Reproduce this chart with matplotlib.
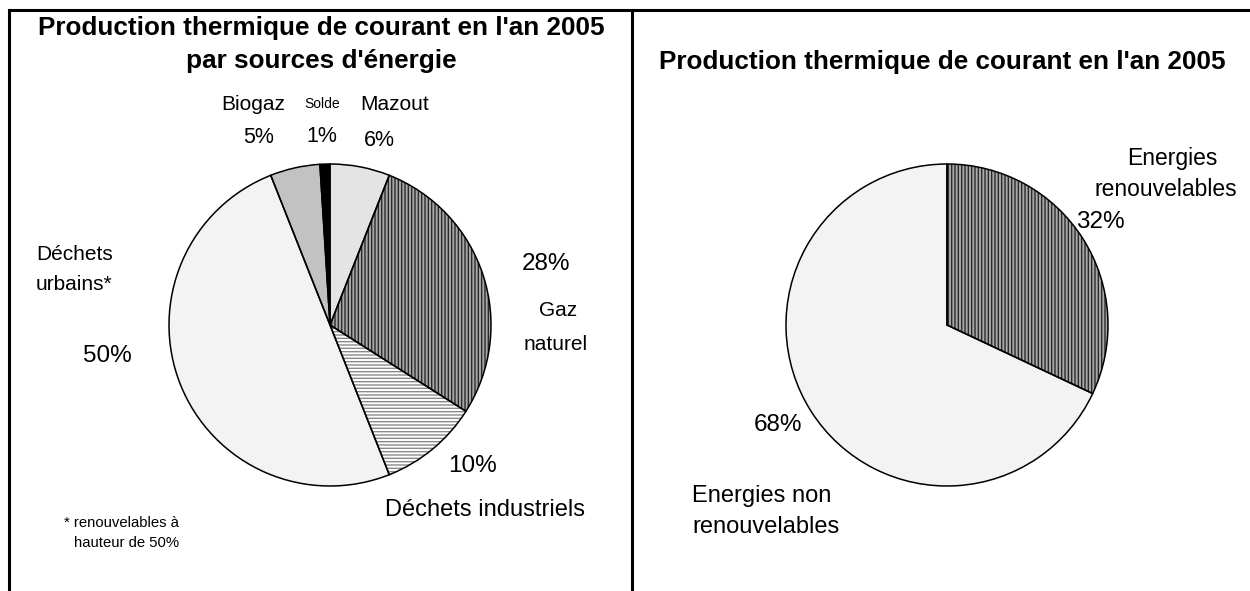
"""Thermal power production 2005 - two pie charts."""

import matplotlib
matplotlib.use("Agg")
import matplotlib.pyplot as plt
from matplotlib.lines import Line2D

plt.rcParams["font.family"] = ["Liberation Sans", "DejaVu Sans"]
plt.rcParams["hatch.linewidth"] = 1.0

# data
left_labels = ["Mazout", "Gaz naturel", "Déchets industriels", "Déchets urbains*", "Biogaz", "Solde"]
left_values = [6, 28, 10, 50, 5, 1]
right_labels = ["Energies renouvelables", "Energies non renouvelables"]
right_values = [32, 68]

left_faces = ["#e4e4e4", "#a8a8a8", "#ffffff", "#f3f3f3", "#c2c2c2", "#000000"]
left_hatches = ["", "|||||", "-----", "", "", ""]
left_hatch_cols = ["#e4e4e4", "#2a2a2a", "#8a8a8a", "#f3f3f3", "#c2c2c2", "#000000"]
right_faces = ["#a8a8a8", "#f3f3f3"]
right_hatches = ["|||||", ""]
right_hatch_cols = ["#2a2a2a", "#f3f3f3"]

W, H = 1250, 591
fig = plt.figure(figsize=(W / 100, H / 100), dpi=100)


def pie_axes(cx, cy, r, lim=1.1):
    size = 2 * r * lim
    return fig.add_axes([(cx - size / 2) / W, 1 - (cy + size / 2) / H, size / W, size / H])


def draw_pie(ax, values, faces, hatches, hatch_cols):
    wedges, _ = ax.pie(values, startangle=90, counterclock=False, colors=faces,
                       wedgeprops=dict(linewidth=0))
    for w, h, hc in zip(wedges, hatches, hatch_cols):
        w.set_hatch(h)
        w.set_edgecolor(hc)
    ax.pie(values, startangle=90, counterclock=False, colors=["none"] * len(values),
           wedgeprops=dict(edgecolor="black", linewidth=1.1, fill=False))
    ax.set_xlim(-1.1, 1.1)
    ax.set_ylim(-1.1, 1.1)
    ax.set_aspect("equal")
    ax.axis("off")


ax1 = pie_axes(330, 325, 161)
draw_pie(ax1, left_values, left_faces, left_hatches, left_hatch_cols)
ax2 = pie_axes(947, 325, 161)
draw_pie(ax2, right_values, right_faces, right_hatches, right_hatch_cols)


def ftext(x, y, s, size=15, **kw):
    fig.text(x / W, 1 - y / H, s, fontsize=size, ha=kw.pop("ha", "center"), va="center", **kw)


# frame lines
lw = 2.2
for xs, ys in [((9, W), (10, 10)), ((9, 9), (10, H)), ((632, 632), (10, H))]:
    fig.add_artist(Line2D([x / W for x in xs], [1 - y / H for y in ys],
                          transform=fig.transFigure, color="black", linewidth=lw))

# titles
TS = 18.8
ftext(321, 28, "Production thermique de courant en l'an 2005", size=TS, fontweight="bold")
ftext(321, 61, "par sources d'énergie", size=TS, fontweight="bold")
ftext(942, 62, "Production thermique de courant en l'an 2005", size=TS, fontweight="bold")

# left labels
ftext(253, 104, "Biogaz")
ftext(259, 137, "5%", size=15.5)
ftext(322, 104, "Solde", size=10)
ftext(322, 136, "1%", size=15.5)
ftext(395, 104, "Mazout")
ftext(379, 141, "6%", size=15.5)
ftext(546, 264, "28%", size=17.5)
ftext(558, 311, "Gaz")
ftext(556, 345, "naturel")
ftext(36, 254, "Déchets", ha="left")
ftext(36, 285, "urbains*", ha="left")
ftext(107, 356, "50%", size=17.5)
ftext(473, 466, "10%", size=17.5)
ftext(485, 510, "Déchets industriels", size=17)
ftext(121, 523, "* renouvelables à", size=10.7)
ftext(127, 543, "hauteur de 50%", size=10.7)

# right labels
ftext(1172, 159, "Energies", size=16.5)
ftext(1166, 190, "renouvelables", size=16.5)
ftext(1100, 222, "32%", size=17.5)
ftext(778, 425, "68%", size=17.5)
ftext(692, 496, "Energies non", size=17, ha="left")
ftext(692, 527, "renouvelables", size=17, ha="left")

fig.savefig("out.png", dpi=100)
